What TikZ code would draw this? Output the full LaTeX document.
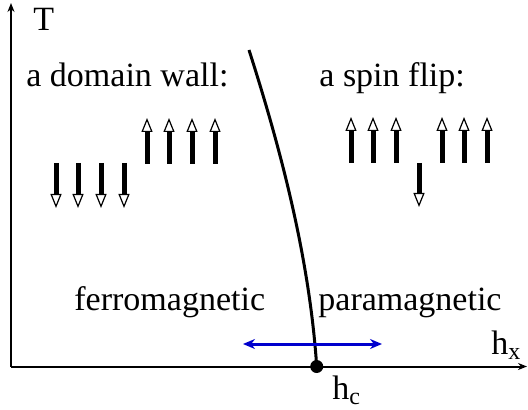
\documentclass[tikz,border=0pt]{standalone}
\usepackage{fontspec}
\setmainfont{Liberation Serif}
\usetikzlibrary{arrows.meta}
\definecolor{fieldblue}{RGB}{0,0,205}
\newcommand{\subtxt}[1]{{\fontsize{12}{12}\selectfont\raisebox{-2.5pt}{#1}}}

\begin{document}
\begin{tikzpicture}[x=0.5pt,y=-0.5pt,font=\fontsize{17}{20}\selectfont,>=Stealth,
  lbl/.style={anchor=base west,inner sep=0pt},
  axis/.style={line width=1pt,-{Stealth[length=4.5pt,width=3.5pt]}},
  spin/.style={line width=2.5pt,-{Triangle[fill=white,length=7pt,width=5.5pt,line width=0.6pt]}}]
\useasboundingbox (0,0) rectangle (528,410);
% axes
\coordinate (o) at (11,366.5);
\coordinate (xend) at (527,366.5);
\coordinate (yend) at (11,3);
\draw[axis] (o) -- (xend);
\draw[axis] (o) -- (yend);
\node[lbl] (tlab) at (33,31) {T};
\node[lbl] (hx) at (491,354) {h\subtxt{x}};
\node[lbl] (hclab) at (332,399) {h\subtxt{c}};
% phase boundary
\node[circle,fill,inner sep=0pt,minimum size=6.5pt] (hc) at (316.7,366.5) {};
\coordinate (ctop) at (249,50);
\draw[line width=1.5pt] (ctop) .. controls (282.6,155) and (309.6,261) .. (hc.center);
\coordinate (fl) at (243,344);
\coordinate (fr) at (382,344);
\draw[fieldblue,line width=1.5pt,{Stealth[length=6pt,width=5pt]}-{Stealth[length=6pt,width=5pt]}] (fl) -- (fr);
% phases
\node[lbl] (ferro) at (74,310) {ferromagnetic};
\node[lbl] (para) at (318,310) {paramagnetic};
% excitations
\node[lbl] (wall) at (26,87) {a domain wall:};
\node[lbl] (flip) at (319,87) {a spin flip:};
\foreach \x in {56,78,101,124} \draw[spin] (\x,163) -- (\x,208);
\foreach \x in {147,169,192,215} \draw[spin] (\x,164) -- (\x,118);
\foreach \x in {351,373,396,442,464,487} \draw[spin] (\x,163) -- (\x,117);
\draw[spin] (419,163) -- (419,207);
\end{tikzpicture}
\end{document}
